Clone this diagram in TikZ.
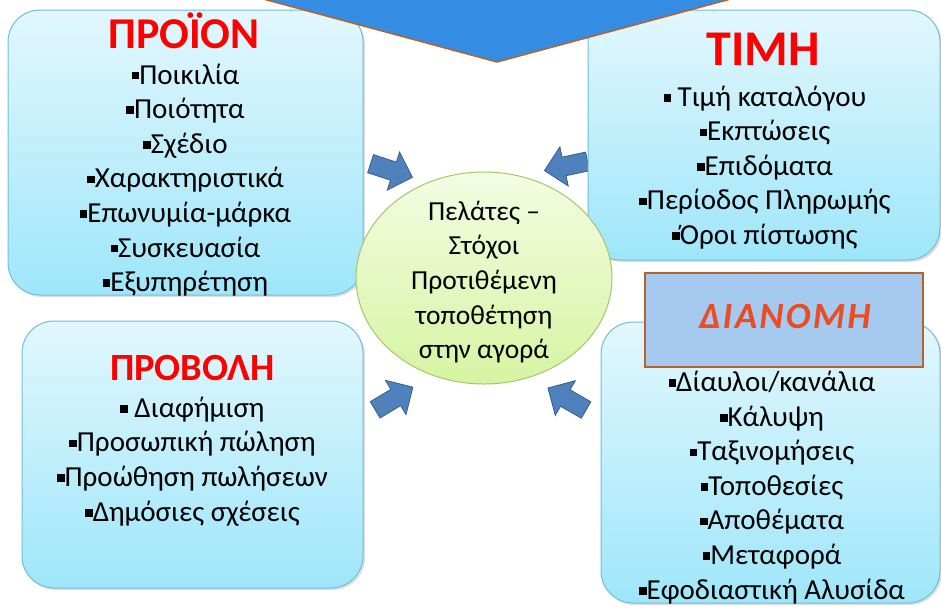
\documentclass[tikz,border=0pt]{standalone}
\usepackage{fontspec}
\setmainfont{Carlito}
\usetikzlibrary{shapes.geometric,shadows}
\definecolor{boxtop}{RGB}{226,247,253}
\definecolor{boxbot}{RGB}{158,230,250}
\definecolor{boxline}{RGB}{112,190,214}
\definecolor{elltop}{RGB}{244,252,226}
\definecolor{ellbot}{RGB}{214,244,162}
\definecolor{ellline}{RGB}{162,200,104}
\definecolor{topblue}{RGB}{53,141,227}
\definecolor{brownline}{RGB}{184,98,40}
\definecolor{arrfill}{RGB}{79,129,189}
\definecolor{arrline}{RGB}{56,93,138}
\definecolor{dianbg}{RGB}{166,201,240}
\definecolor{diantext}{RGB}{234,76,36}
\definecolor{titlered}{RGB}{255,0,0}
\newcommand\bul{\rule[0.16em]{0.26em}{0.26em}}
\begin{document}
\begin{tikzpicture}[x=1pt,y=-1pt,
  mixbox/.style={draw=boxline, line width=1pt, rounded corners=32pt,
    top color=boxtop, bottom color=boxbot, inner sep=0pt,
    drop shadow={opacity=0.25, shadow xshift=2pt, shadow yshift=-2pt}},
  itemtext/.style={align=center, inner sep=0pt,
    font=\fontsize{29}{34.6}\selectfont},
  centretext/.style={align=center, inner sep=0pt,
    font=\fontsize{27.5}{34.6}\selectfont},
  titletext/.style={inner sep=0pt, text=titlered, font=\bfseries\fontsize{#1}{#1}\selectfont},
  blockarrow/.pic={\draw[fill=arrfill, draw=arrline, line width=0.8pt]
    (-22,-9.5) -- (2,-9.5) -- (2,-20) -- (22,0) -- (2,20) -- (2,9.5) -- (-22,9.5) -- cycle;}
]
\useasboundingbox (0,0) rectangle (941,608);
\clip (0,0) rectangle (941,608);

% arrows (under boxes)
\pic[rotate=-18] at (391.5,170.5) {blockarrow};
\pic[rotate=192] at (566,166) {blockarrow};
\pic[rotate=31] at (394,398.5) {blockarrow};
\pic[rotate=150] at (567,399) {blockarrow};

% boxes
\node[mixbox, minimum width=355pt, minimum height=285pt] (prod) at (185.5,152.5) {};
\node[mixbox, minimum width=352pt, minimum height=250pt] (price) at (764,135) {};
\node[mixbox, minimum width=341pt, minimum height=267pt] (promo) at (192.5,454.5) {};
\node[mixbox, minimum width=339pt, minimum height=281pt] (place) at (770.5,462.5) {};

% centre ellipse
\node[ellipse, draw=ellline, line width=1pt, top color=elltop, bottom color=ellbot,
  minimum width=256pt, minimum height=212pt, inner sep=0pt] (cust) at (484,278) {};

% top blue shape
\draw[fill=topblue, draw=brownline, line width=1.5pt]
  (230,-10) -- (497,62) -- (764,-10) -- cycle;

% distribution label
\node[draw=brownline, line width=2pt, fill=dianbg, minimum width=278pt,
  minimum height=94pt, inner sep=0pt] (dianlab) at (784,320) {};

% texts
\node[titletext=44] (prodt) at (184,31) {ΠΡΟΪΟΝ};
\node[itemtext] (prodi) at (185.5,180) {\bul Ποικιλία\\ \bul Ποιότητα\\ \bul Σχέδιο\\
  \bul Χαρακτηριστικά\\ \bul Επωνυμία-μάρκα\\ \bul Συσκευασία\\ \bul Εξυπηρέτηση};

\node[titletext=50] (pricet) at (763,49) {ΤΙΜΗ};
\node[itemtext] (pricei) at (765,167.5) {\bul{} Τιμή καταλόγου\\ \bul Εκπτώσεις\\ \bul Επιδόματα\\
  \bul Περίοδος Πληρωμής\\ \bul Όροι πίστωσης};

\node[titletext=38.5] (promot) at (192.5,368) {ΠΡΟΒΟΛΗ};
\node[itemtext] (promoi) at (192.5,461.5) {\bul{} Διαφήμιση\\ \bul Προσωπική πώληση\\
  \bul Προώθηση πωλήσεων\\ \bul Δημόσιες σχέσεις};

\node[inner sep=0pt, text=diantext, font=\bfseries\itshape\fontsize{37}{37}\selectfont\addfontfeatures{LetterSpace=6}] (diant) at (785,316) {ΔΙΑΝΟΜΗ};
\node[itemtext] (placei) at (772,487.5) {\bul Δίαυλοι/κανάλια\\ \bul Κάλυψη\\ \bul Ταξινομήσεις\\
  \bul Τοποθεσίες\\ \bul Αποθέματα\\ \bul Μεταφορά\\ \bul Εφοδιαστική Αλυσίδα};

\node[centretext] (custt) at (484,282) {Πελάτες –\\ Στόχοι\\ Προτιθέμενη\\ τοποθέτηση\\ στην αγορά};
\end{tikzpicture}
\end{document}
